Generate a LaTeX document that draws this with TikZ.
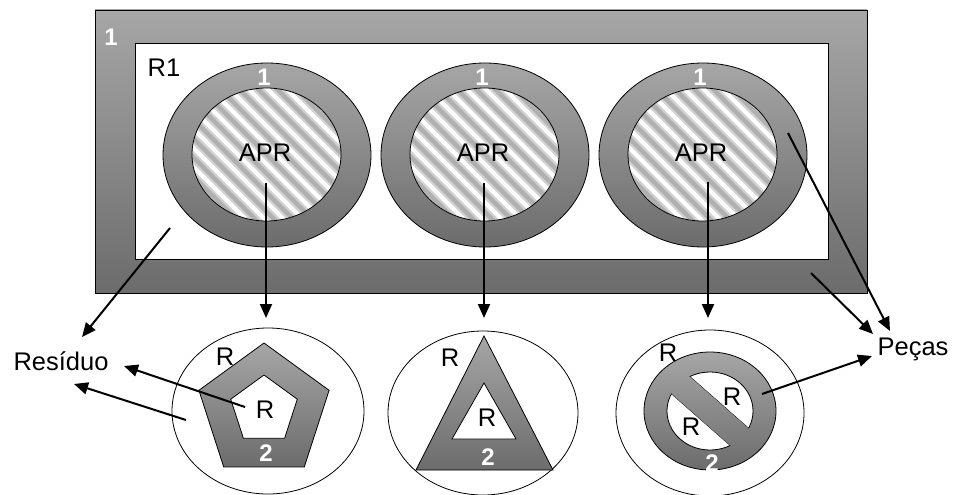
\documentclass[tikz,border=0pt]{standalone}
\usepackage{fontspec}
\setmainfont{Liberation Sans}
\usetikzlibrary{arrows.meta,calc}
\definecolor{shadetop}{HTML}{A6A6A6}
\definecolor{shadebot}{HTML}{6C6C6C}
\tikzset{
  graybody/.style={top color=shadetop, bottom color=shadebot, draw=black, line width=0.8pt},
  hole/.style={fill=white, draw=black, line width=0.8pt},
  rim/.style={draw=black, line width=0.8pt},
  lbl/.style={font=\fontsize{25.5}{28}\selectfont, inner sep=0pt},
  num/.style={font=\fontsize{24}{26}\selectfont\bfseries, text=white, inner sep=0pt},
  flow/.style={line width=2pt, -{Triangle[length=14pt,width=12pt]}},
  stripesoft/.style={draw=gray!35, line width=9pt},
  stripecore/.style={draw=gray!62, line width=4.5pt}
}
% striped filling of an ellipse: centre x, centre y, x radius, y radius
\newcommand\hatchfill[4]{%
  \begin{scope}
    \clip (#1,#2) ellipse [x radius=#3, y radius=#4];
    \fill[white] (#1,#2) ellipse [x radius=#3, y radius=#4];
    \foreach \k in {-12,...,12}{
      \draw[stripesoft] ($(#1,#2)+(\k*19-160,-160)$) -- ++(320,320);
      \draw[stripecore] ($(#1,#2)+(\k*19-160,-160)$) -- ++(320,320);
    }
  \end{scope}
  \draw[rim] (#1,#2) ellipse [x radius=#3, y radius=#4];
}
\begin{document}
\begin{tikzpicture}[x=1pt,y=-1pt]
  \useasboundingbox (0,0) rectangle (953,495);

  % outer frame and room
  \draw[graybody] (95,10) rectangle (867,293);
  \draw[hole] (135,43) rectangle (828,259);
  \node[num] (frameno) at (111,37) {1};
  \node[lbl] (room) at (164,68) {R1};

  % three rings holding an APR zone
  \foreach \cx/\nm in {267/a, 485/b, 703/c}{
    \draw[graybody] (\cx,155) ellipse [x radius=104, y radius=92];
    \hatchfill{\cx-0.5}{154.5}{74.5}{66.5}
    \node[num] (ring\nm) at (\cx-3,77) {1};
    \node[lbl] (apr\nm) at (\cx-2,153) {APR};
  }

  % pentagon cell
  \draw[rim, fill=white] (268,411) ellipse [x radius=96, y radius=83];
  \draw[graybody] (264,343) -- (329.1,390.3) -- (304.3,466.9) -- (223.7,466.9) -- (198.9,390.3) -- cycle;
  \draw[hole] (264,375) -- (297.3,399.2) -- (284.6,438.3) -- (243.4,438.3) -- (230.7,399.2) -- cycle;
  \node[lbl] (pentout) at (225,357) {R};
  \node[lbl] (pentin) at (265,410) {R};
  \node[num] (pentno) at (266,453) {2};

  % triangle cell
  \draw[rim, fill=white] (483,413) ellipse [x radius=95, y radius=82];
  \draw[graybody] (484,336) -- (553,470) -- (416,470) -- cycle;
  \draw[hole] (484,383) -- (516,439) -- (452,439) -- cycle;
  \node[lbl] (triout) at (450,358) {R};
  \node[lbl] (triin) at (487,418) {R};
  \node[num] (trino) at (488,457) {2};

  % barred ring cell
  \draw[rim, fill=white] (710,413) ellipse [x radius=94, y radius=83];
  \draw[graybody] (710,411) ellipse [x radius=66, y radius=59];
  \begin{scope}
    \clip (643.25,335.6) -- (793.25,467.6) -- (859.25,392.6) -- (709.25,260.6) -- cycle;
    \draw[hole] (710,411) ellipse [x radius=43, y radius=39];
    \clip (710,411) ellipse [x radius=43, y radius=39];
    \draw[rim] (643.25,335.6) -- (793.25,467.6);
  \end{scope}
  \begin{scope}
    \clip (626.75,354.4) -- (776.75,486.4) -- (710.75,561.4) -- (560.75,429.4) -- cycle;
    \draw[hole] (710,411) ellipse [x radius=43, y radius=39];
    \clip (710,411) ellipse [x radius=43, y radius=39];
    \draw[rim] (626.75,354.4) -- (776.75,486.4);
  \end{scope}
  \node[lbl] (barout) at (668,353) {R};
  \node[lbl] (barinA) at (732,397) {R};
  \node[lbl] (barinB) at (691,427) {R};
  \node[num] (barno) at (712,463) {2};

  % destinations
  \node[lbl] (res) at (61,361) {Resíduo};
  \node[lbl] (pec) at (913,349) {Peças};

  % arrow ends
  \coordinate (sA) at (266,183);
  \coordinate (tA) at (266,318);
  \coordinate (sB) at (484,183);
  \coordinate (tB) at (484,318);
  \coordinate (sC) at (708,182);
  \coordinate (tC) at (708,318);
  \coordinate (roomout) at (170,228);
  \coordinate (resA) at (82,337);
  \coordinate (pentcore) at (245,407);
  \coordinate (resB) at (124,366);
  \coordinate (pentedge) at (186,420);
  \coordinate (resC) at (74,384);
  \coordinate (ringside) at (788,133);
  \coordinate (pecA) at (890,331);
  \coordinate (frameside) at (811,273);
  \coordinate (pecB) at (873,334);
  \coordinate (barside) at (762,394);
  \coordinate (pecC) at (872,356);

  \draw[flow] (sA) -- (tA);
  \draw[flow] (sB) -- (tB);
  \draw[flow] (sC) -- (tC);
  \draw[flow] (roomout) -- (resA);
  \draw[flow] (pentcore) -- (resB);
  \draw[flow] (pentedge) -- (resC);
  \draw[flow] (ringside) -- (pecA);
  \draw[flow] (frameside) -- (pecB);
  \draw[flow] (barside) -- (pecC);
\end{tikzpicture}
\end{document}
